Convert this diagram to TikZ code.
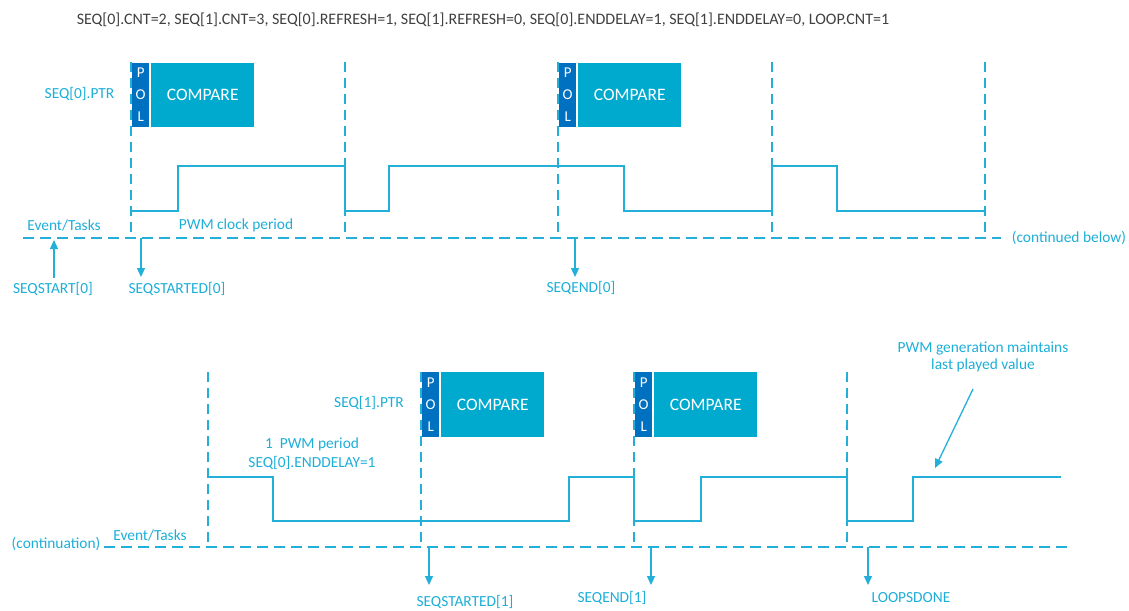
\documentclass[tikz,border=0pt]{standalone}
\usepackage{fontspec}
\setmainfont{Carlito}
\usetikzlibrary{arrows.meta}
\definecolor{wave}{HTML}{22B0D8}
\definecolor{lbl}{HTML}{1DAED8}
\definecolor{cmp}{HTML}{00AACE}
\definecolor{pol}{HTML}{0070C0}
\definecolor{ttl}{HTML}{404040}
\tikzset{
  gridv/.style={wave, line width=1.3pt, dash pattern=on 10pt off 6pt},
  gridh/.style={wave, line width=1.3pt, dash pattern=on 11pt off 6pt},
  sig/.style={wave, line width=1.5pt, line join=miter},
  evarrow/.style={wave, line width=1.3pt, -{Triangle[width=8pt,length=9pt]}},
  lab/.style={text=lbl, font=\fontsize{15.4}{18}\selectfont, inner sep=0pt, text height=10.5pt, text depth=3pt},
  ttltext/.style={text=ttl, font=\fontsize{16}{19}\selectfont, inner sep=0pt, text height=11pt, text depth=3pt},
  cmpbox/.style={fill=cmp, text=white, minimum width=103pt, minimum height=64.5pt, inner sep=0pt, anchor=north west, font=\fontsize{17.5}{20}\selectfont},
  polbox/.style={fill=pol, text=white, minimum width=17pt, minimum height=64.5pt, inner sep=0pt, anchor=north west, font=\fontsize{15}{22}\selectfont, align=center},
}
\begin{document}
\begin{tikzpicture}[x=1pt,y=-1pt]
\useasboundingbox (0,0) rectangle (1129,610);

% title
\node[ttltext] (title) at (483,21) {SEQ[0].CNT=2, SEQ[1].CNT=3, SEQ[0].REFRESH=1, SEQ[1].REFRESH=0, SEQ[0].ENDDELAY=1, SEQ[1].ENDDELAY=0, LOOP.CNT=1};

% ---------- top part ----------
\node[polbox] (pol1) at (132,62.5) {P\\O\\L};
\node[cmpbox] (cmp1) at (151,62.5) {COMPARE};
\node[polbox] (pol2) at (559,62.5) {P\\O\\L};
\node[cmpbox] (cmp2) at (578,62.5) {COMPARE};
\node[lab] (ptr0) at (79.5,95) {SEQ[0].PTR};

\foreach \x in {131,345,558,772,985} \draw[gridv] (\x,62) -- (\x,238);
\draw[gridh] (23,238) -- (1001,238);

\draw[sig] (131,211) -- (178,211) -- (178,166) -- (345,166) -- (345,211) -- (389,211) -- (389,166)
  -- (624,166) -- (624,211) -- (772,211) -- (772,166) -- (837,166) -- (837,211) -- (985,211);

\node[lab] (ev1) at (64,227) {Event/Tasks};
\node[lab] (clk) at (236,226) {PWM clock period};
\node[lab] (cont1) at (1069,239) {(continued below)};

\node[lab] (seqstart0) at (53,290) {SEQSTART[0]};
\node[lab] (seqstarted0) at (177,290) {SEQSTARTED[0]};
\node[lab] (seqend0) at (581,289) {SEQEND[0]};

\coordinate (a1s) at (54,278);
\coordinate (a1e) at (54,240);
\coordinate (a2s) at (141,238);
\coordinate (a2e) at (141,277);
\coordinate (a3s) at (575,238);
\coordinate (a3e) at (575,277);
\draw[evarrow] (a1s) -- (a1e);
\draw[evarrow] (a2s) -- (a2e);
\draw[evarrow] (a3s) -- (a3e);

% ---------- bottom part ----------
\node[polbox] (pol3) at (422,372) {P\\O\\L};
\node[cmpbox] (cmp3) at (441,372) {COMPARE};
\node[polbox] (pol4) at (635,372) {P\\O\\L};
\node[cmpbox] (cmp4) at (654,372) {COMPARE};
\node[lab] (ptr1) at (369,404) {SEQ[1].PTR};

\foreach \x in {208,421,634,847} \draw[gridv] (\x,372) -- (\x,547);
\draw[gridh] (104,547) -- (1073,547);

\draw[sig] (208,477) -- (273,477) -- (273,521) -- (569,521) -- (569,477) -- (634,477) -- (634,521)
  -- (701,521) -- (701,477) -- (847,477) -- (847,521) -- (913,521) -- (913,477) -- (1061,477);

\node[lab] (contn) at (56,545) {(continuation)};
\node[lab] (ev2) at (150,537) {Event/Tasks};
% multi-line labels: node centre follows the last line
\node[lab, align=center, font=\fontsize{15.4}{19}\selectfont] (enddelay) at (312,464) {1\ \ PWM period\\SEQ[0].ENDDELAY=1};
\node[lab, align=center, font=\fontsize{15.4}{17.5}\selectfont] (maint) at (983,366) {PWM generation maintains\\last played value};

\node[lab] (seqstarted1) at (465,603) {SEQSTARTED[1]};
\node[lab] (seqend1) at (612,599) {SEQEND[1]};
\node[lab] (loopsdone) at (911,599) {LOOPSDONE};

\coordinate (b1s) at (429,547);
\coordinate (b1e) at (429,585);
\coordinate (b2s) at (651,547);
\coordinate (b2e) at (651,585);
\coordinate (b3s) at (868,547);
\coordinate (b3e) at (868,585);
\draw[evarrow] (b1s) -- (b1e);
\draw[evarrow] (b2s) -- (b2e);
\draw[evarrow] (b3s) -- (b3e);

\coordinate (ms) at (973,389);
\coordinate (mtip) at (935,468);
\draw[evarrow] (ms) -- (mtip);
\end{tikzpicture}
\end{document}
